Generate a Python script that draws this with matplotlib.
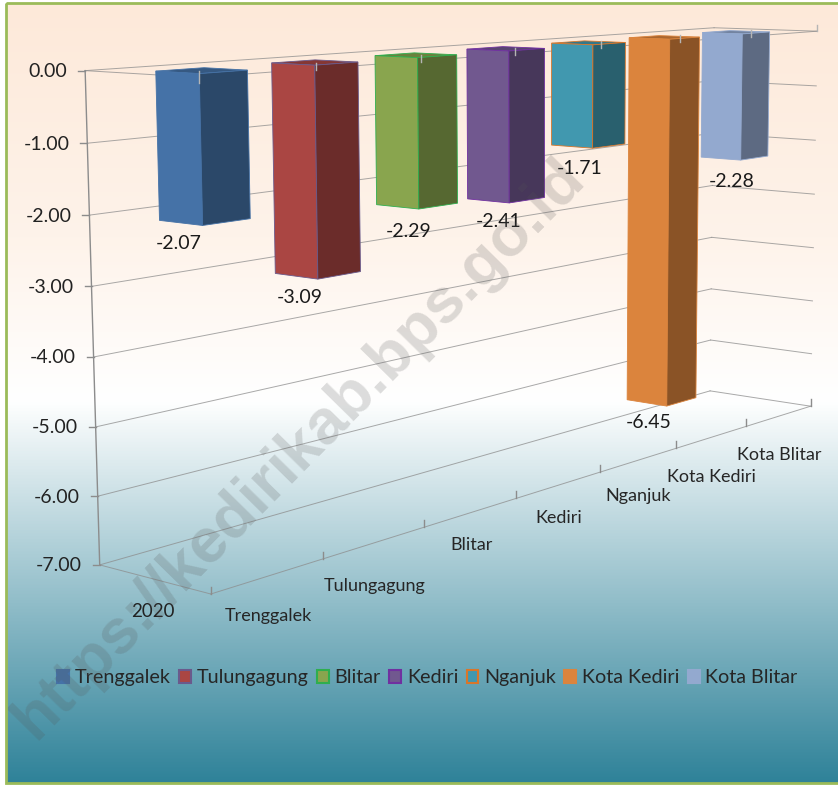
import numpy as np
import matplotlib
matplotlib.use('Agg')
import matplotlib.pyplot as plt
from matplotlib.colors import LinearSegmentedColormap, to_rgb
from matplotlib.patches import Patch, Rectangle

plt.rcParams['font.family'] = ['Lato', 'DejaVu Sans']

# ==============================================
# Data
# ==============================================
categories = ['Trenggalek', 'Tulungagung', 'Blitar', 'Kediri', 'Nganjuk', 'Kota Kediri', 'Kota Blitar']
values = [-2.07, -3.09, -2.29, -2.41, -1.71, -6.45, -2.28]
value_ticks = [0, -1, -2, -3, -4, -5, -6, -7]
depth_label = '2020'

face_colors = ['#4572A7', '#AA4643', '#89A54E', '#71588F', '#4198AF', '#DB843D', '#93A9CF']
edge_colors = ['#4572A7', '#6A5A8C', '#2FAE4E', '#7030A0', '#D9762A', '#DB843D', '#93A9CF']

# ==============================================
# Perspective box: screen position of the 8 box corners (cat, depth, value)
# ==============================================
n_cat = len(categories)
corners_3d = [(0, 0, 0), (n_cat, 0, 0), (0, 1, 0), (n_cat, 1, 0),
              (0, 0, -7), (n_cat, 0, -7), (0, 1, -7), (n_cat, 1, -7)]
corners_px = [(200, 78), (819, 31), (85, 70), (712, 28),
              (210, 594), (809, 406), (100, 565), (712, 391)]

A = []
b = []
for (c, d, v), (px, py) in zip(corners_3d, corners_px):
    A.append([c, d, v, 1, 0, 0, 0, 0, -px * c, -px * d, -px * v])
    b.append(px)
    A.append([0, 0, 0, 0, c, d, v, 1, -py * c, -py * d, -py * v])
    b.append(py)
cam = np.linalg.lstsq(np.array(A, float), np.array(b, float), rcond=None)[0]
cam = np.append(cam, 1).reshape(3, 4)


def proj(c, d, v):
    p = cam @ np.array([c, d, v, 1.0])
    return p[0] / p[2], p[1] / p[2]


def line3d(ax, a, b, **kw):
    pa, pb = proj(*a), proj(*b)
    ax.plot([pa[0], pb[0]], [pa[1], pb[1]], **kw)


# ==============================================
# Figure and background
# ==============================================
fig = plt.figure(figsize=(8.38, 7.85), dpi=100)
ax = fig.add_axes([0, 0, 1, 1])
ax.set_xlim(0, 838)
ax.set_ylim(785, 0)
ax.axis('off')

cmap = LinearSegmentedColormap.from_list('bg', [(0, '#FDE9D9'), (0.3, '#FEF3EA'), (0.51, '#FFFFFF'), (1, '#2F8299')])
grad = np.linspace(0, 1, 512).reshape(-1, 1)
ax.imshow(grad, cmap=cmap, extent=(6, 838, 783, 3), aspect='auto', zorder=0)
ax.set_xlim(0, 838)
ax.set_ylim(785, 0)

# ==============================================
# Walls, floor and axis lines
# ==============================================
grid = dict(color='#8C8C8C', lw=0.7, zorder=1, alpha=0.75)
for v in value_ticks:
    line3d(ax, (0, 1, v), (n_cat, 1, v), **grid)
    line3d(ax, (n_cat, 1, v), (n_cat, 0, v), **grid)
    x0, y0 = proj(0, 1, v)
    ax.plot([x0 - 7, x0], [y0, y0], color='#8C8C8C', lw=1, zorder=1)
    ax.text(x0 - 18, y0 + 1, '{:.2f}'.format(v), ha='right', va='center', fontsize=14, color='#222222')
for v in (0, -7):
    line3d(ax, (0, 1, v), (0, 0, v), **grid)
    line3d(ax, (0, 0, v), (n_cat, 0, v), **grid)
line3d(ax, (0, 1, 0), (0, 1, -7), color='#8C8C8C', lw=1, zorder=1)

# ==============================================
# Bars (the bar block sits a little inside the wall box)
# ==============================================
bar_w = 0.40
bar_d = 0.37
bar_off = [0, -0.01, -0.03, -0.07, -0.10, -0.13, -0.13]
bar_v0 = 0.05
bar_scale = 0.97
bar_bottom = []
for i, val in enumerate(values):
    c0 = i + bar_off[i]
    c1 = c0 + bar_w
    top_v = bar_v0
    low_v = bar_v0 + val * bar_scale
    base = np.array(to_rgb(face_colors[i]))
    dark = base * 0.63
    top = base * 0.78
    faces = [
        ([(c0, 0, top_v), (c0, bar_d, top_v), (c1, bar_d, top_v), (c1, 0, top_v)], top),
        ([(c0, 0, top_v), (c0, bar_d, top_v), (c0, bar_d, low_v), (c0, 0, low_v)], base),
        ([(c0, 0, top_v), (c1, 0, top_v), (c1, 0, low_v), (c0, 0, low_v)], dark),
    ]
    for pts, col in faces:
        xy = [proj(*p) for p in pts]
        ax.fill([p[0] for p in xy], [p[1] for p in xy], facecolor=col, edgecolor=edge_colors[i], lw=0.6, zorder=3)
    bar_bottom.append(proj(c0, 0, low_v))

# data labels sit below the front corner of each bar
label_off = [(-24, 18), (-18, 18), (-10, 22), (-11, 19), (-13, 20), (-18, 16), (-9, 21)]
for i, val in enumerate(values):
    x, y = bar_bottom[i]
    ax.text(x + label_off[i][0], y + label_off[i][1], '{:.2f}'.format(val), ha='center', va='center',
            fontsize=14, color='#1A1A1A', zorder=5)

# ==============================================
# Category ticks and labels
# ==============================================
for i in range(n_cat + 1):
    x, y = proj(i, 0, -7)
    ax.plot([x, x], [y - 7, y], color='#8C8C8C', lw=1, zorder=2)
    x, y = proj(i, 0, 0)
    if i == 0:
        ax.plot([x, x], [y - 6, y + 6], color='#B5B5B5', lw=1, zorder=4)
    elif i < n_cat:
        ax.plot([x, x], [y - 6, y + 1], color='#B5B5B5', lw=1, zorder=4)
    else:
        ax.plot([x, x], [y - 6, y], color='#B5B5B5', lw=1, zorder=2)

cat_dy = [40, 43, 33, 33, 36, 40, 39]
for i, name in enumerate(categories):
    x, y = proj(i + 0.5, 0, -7)
    ax.text(x, y + cat_dy[i], name, ha='center', va='center', fontsize=13, color='#262626', zorder=5)

x, y = proj(0, 0.5, -7)
ax.text(x - 1, y + 32, depth_label, ha='center', va='center', fontsize=13.5, color='#222222', zorder=5)

# ==============================================
# Legend, watermark, border
# ==============================================
handles = [Patch(facecolor=f, edgecolor=e, lw=1.5, label=n) for f, e, n in zip(face_colors, edge_colors, categories)]
ax.legend(handles=handles, loc='center', bbox_to_anchor=(0.51, 0.1365), ncol=n_cat, frameon=False,
          fontsize=14.2, handlelength=0.6, handleheight=0.6, handletextpad=0.3, columnspacing=0.42,
          labelcolor='#262626')

ax.text(35, 741, 'https://kedirikab.bps.go.id', rotation=45.5, rotation_mode='anchor', ha='left', va='baseline',
        family='Liberation Sans', fontweight='bold', fontsize=45.5, color='#555555', alpha=0.2, zorder=6)

ax.add_patch(Rectangle((6, 3), 840, 780, fill=False, edgecolor='#9BBB59', lw=2, zorder=7))

fig.savefig('out.png', dpi=100)
